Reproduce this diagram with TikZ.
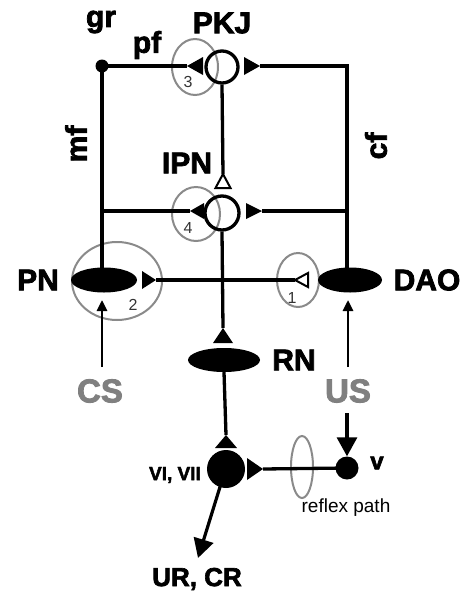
\documentclass[tikz,border=0pt]{standalone}
\usepackage{fontspec}
\usetikzlibrary{shapes.geometric,arrows.meta}
\newfontfamily\lab[FakeBold=2.5]{Liberation Sans Bold}
\newfontfamily\thinf{Liberation Sans}
\definecolor{grayc}{HTML}{8A8A8A}
\definecolor{graytxt}{HTML}{808080}
\begin{document}
\begin{tikzpicture}[x=1pt,y=-1pt,
  wire/.style={line width=3.3pt},
  cellfill/.style={ellipse,fill=black,inner sep=0pt},
  ring/.style={draw=grayc,line width=2pt,ellipse,inner sep=0pt},
  soma/.style={circle,draw=black,line width=3.3pt,inner sep=0pt,minimum size=32pt},
  big/.style={font=\lab\fontsize{30}{30}\selectfont,inner sep=0pt},
  stim/.style={font=\lab\fontsize{33}{33}\selectfont,inner sep=0pt,text=graytxt},
  mid/.style={font=\lab\fontsize{19}{19}\selectfont,inner sep=0pt},
  num/.style={font=\thinf\fontsize{16}{16}\selectfont,inner sep=0pt,text=black!80},
  small/.style={font=\thinf\fontsize{19}{19}\selectfont,inner sep=0pt},
  arrS/.style={line width=2.6pt,-{Triangle[length=11pt,width=10pt]}},
  arrB/.style={line width=3.2pt,-{Triangle[length=19pt,width=20pt]}},
  opentri/.style={draw=black,line width=2pt,fill=white,line join=miter}
]
\useasboundingbox (0,0) rectangle (467,592);

% gray rings (drawn first)
\node[ring,minimum width=46pt,minimum height=56pt] (r3) at (195,67) {};
\node[ring,minimum width=48pt,minimum height=54pt] (r4) at (196,214) {};
\node[ring,minimum width=90pt,minimum height=78pt] (r2) at (117,281) {};
\node[ring,minimum width=42pt,minimum height=54pt] (r1) at (298,280) {};
\node[ring,minimum width=22pt,minimum height=62pt] (rr) at (302,467) {};

% cells
\node[circle,fill=black,minimum size=13pt,inner sep=0pt] (gr) at (102,66) {};
\node[soma] (pkj) at (222,67) {};
\node[soma,minimum size=34pt] (ipn) at (222,213) {};
\node[cellfill,minimum width=66pt,minimum height=25pt] (pn) at (104,280) {};
\node[cellfill,minimum width=64pt,minimum height=25pt] (dao) at (350,280) {};
\node[cellfill,minimum width=72pt,minimum height=24pt] (rn) at (224,360) {};
\node[circle,fill=black,minimum size=38pt,inner sep=0pt] (vi) at (226,469) {};
\node[circle,fill=black,minimum size=23pt,inner sep=0pt] (v) at (347,468) {};

% corner / junction coordinates
\coordinate (tr) at (347,66);
\coordinate (ml) at (102,211);
\coordinate (mr) at (347,211);
\coordinate (pntop) at (102,280);
\coordinate (daotop) at (347,280);
\coordinate (csS) at (102,367);
\coordinate (csE) at (102,300);
\coordinate (usS) at (348,367);
\coordinate (usE) at (348,300);
\coordinate (usD) at (347,413);
\coordinate (urE) at (198,558);

% triangle tips
\coordinate (t3) at (187,66);
\coordinate (t3r) at (260,66);
\coordinate (t4) at (190,211);
\coordinate (t4r) at (262,211);
\coordinate (tipn) at (223,174);
\coordinate (tpn) at (156,280);
\coordinate (tdao) at (295,280);
\coordinate (trn) at (223,328);
\coordinate (tvi) at (226,435);
\coordinate (tvir) at (263,469);

% wires
\draw[wire] (gr.center) -- (t3);
\draw[wire] (t3r) -- (tr) -- (daotop);
\draw[wire] (gr.center) -- (pntop);
\draw[wire] (ml) -- (t4);
\draw[wire] (t4r) -- (mr);
\draw[wire] (pkj.south) -- (tipn);
\draw[wire] (tpn) -- (tdao);
\draw[wire] (ipn.south) -- (trn);
\draw[wire] (rn.south) -- (tvi);
\draw[wire] (tvir) -- (v.center);

% synapse triangles
\fill (t3) -- (203,57) -- (203,75) -- cycle;
\fill (t3r) -- (244,57) -- (244,75) -- cycle;
\fill (t4) -- (204,203) -- (204,219) -- cycle;
\fill (t4r) -- (246,203) -- (246,219) -- cycle;
\draw[opentri] (tipn) -- (215.5,188) -- (230.5,188) -- cycle;
\fill (tpn) -- (142,271) -- (142,289) -- cycle;
\draw[opentri] (tdao) -- (308,273) -- (308,287) -- cycle;
\fill (trn) -- (213,343) -- (233,343) -- cycle;
\fill (tvi) -- (215,448) -- (237,448) -- cycle;
\fill (tvir) -- (247,458) -- (247,480) -- cycle;

% arrows
\draw[arrS] (csS) -- (csE);
\draw[arrS] (usS) -- (usE);
\draw[arrB] (usD) -- (v.north);
\draw[arrB] (vi.south west) ++(8,3) -- (urE);

% labels
\node[big] (lpkj) at (222,23) {PKJ};
\node[big] (lgr) at (101,22) {gr};
\node[big] (lpf) at (147,45) {pf};
\node[big] (lipn) at (187,163) {IPN};
\node[big,rotate=90] (lmf) at (76,144) {mf};
\node[big,rotate=90] (lcf) at (376,146) {cf};
\node[big] (lpn) at (38,280) {PN};
\node[big] (ldao) at (427,280) {DAO};
\node[big] (lrn) at (294,360) {RN};
\node[stim] (lcs) at (100,391) {CS};
\node[stim] (lus) at (348,391) {US};
\node[mid,anchor=east] (lvi) at (201,475) {VI, VII};
\node[big,font=\lab\fontsize{24}{24}\selectfont] (lv) at (377,463) {v};
\node[big,font=\lab\fontsize{26}{26}\selectfont] (lur) at (197,579) {UR, CR};
\node[small] (lrp) at (346,508) {reflex path};
\node[num] (n3) at (188,82) {3};
\node[num] (n4) at (188,228) {4};
\node[num] (n2) at (133,305) {2};
\node[num] (n1) at (292,298) {1};
\end{tikzpicture}
\end{document}
